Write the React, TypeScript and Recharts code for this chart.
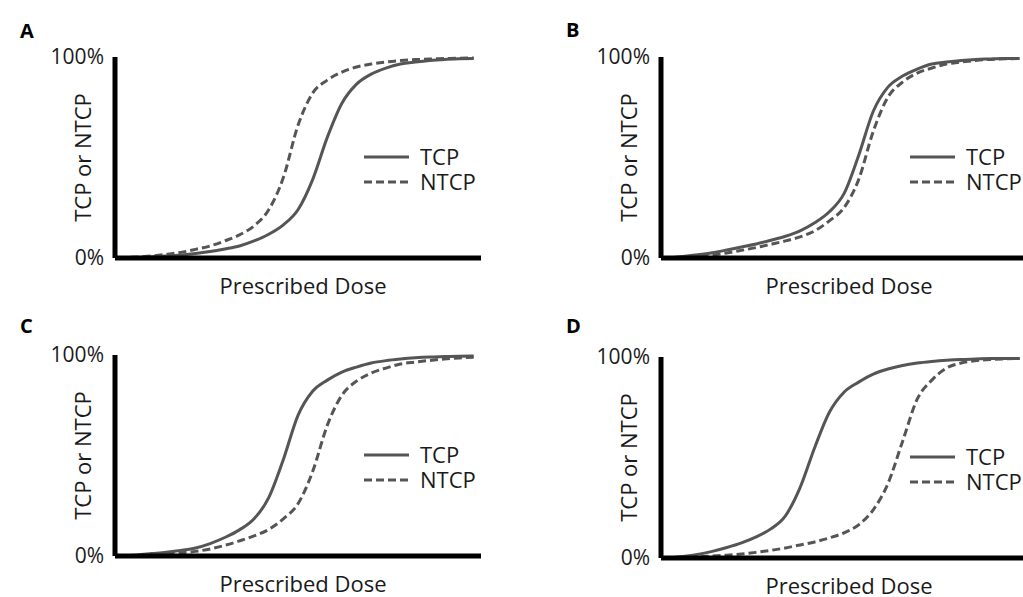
import { LineChart, Line, XAxis, YAxis, Legend } from 'recharts';

// shared dose grid (arbitrary units, 0-100 across the x axis)
const DOSE = [1, 6, 10, 14, 18, 22, 26, 30, 34, 38, 42, 46, 50, 54, 58, 62, 66, 70, 74, 78, 82, 86, 90, 94, 98];

// probability in %
const TCP_A = [0, 0.3, 0.6, 1, 1.5, 2.2, 3.2, 4.5, 6, 8.5, 11.8, 16.5, 24, 39, 60, 77, 86.5, 91.5, 94.5, 96.5, 97.5, 98.3, 98.8, 99.1, 99.3];
const NTCP_A = [0, 0.5, 1, 1.8, 2.8, 4.3, 6, 8.5, 11.5, 16, 24, 40, 66, 82, 88.5, 92.5, 95, 96.5, 97.5, 98.2, 98.7, 99, 99.2, 99.4, 99.5];

const TCP_B = [0, 0.8, 1.6, 2.6, 4, 5.5, 7, 8.8, 10.8, 13.5, 17.5, 23, 32, 51, 73, 85, 90.5, 94, 96.5, 97.5, 98.3, 98.8, 99, 99.2, 99.3];
const NTCP_B = [0, 0.3, 0.7, 1.5, 2.5, 3.8, 5.2, 6.8, 8.5, 10.5, 13.5, 18.5, 25, 39, 63, 80, 87.5, 92, 94.5, 96.5, 97.5, 98.3, 98.8, 99.1, 99.3];

const TCP_C = [0, 0.5, 1.2, 1.9, 2.8, 4, 6.2, 9.2, 13, 18.5, 29, 48, 70, 82, 87.5, 91.5, 94, 96, 97.2, 98, 98.6, 99, 99.2, 99.4, 99.5];
const NTCP_C = [0, 0.2, 0.5, 1, 1.6, 2.3, 3.5, 5.3, 7.5, 10, 13.2, 18.5, 26, 42, 65, 80, 87, 91, 93.5, 95.5, 96.5, 97.3, 98, 98.5, 98.9];

const TCP_D = [0, 0.8, 1.8, 3.3, 5.2, 7.5, 10.5, 14.5, 21, 35, 55, 72.5, 82.5, 87.5, 91.5, 94, 95.8, 97, 97.8, 98.4, 98.8, 99, 99.2, 99.3, 99.3];
const NTCP_D = [0, 0.3, 0.6, 1, 1.4, 2, 2.8, 3.8, 5, 6.5, 8, 10, 12.5, 16.5, 24, 37, 58, 79, 88.5, 94.5, 97, 98.2, 98.8, 99.1, 99.3];

const Y_TICKS = [0, 100];
const PANEL_LETTERS = ['A', 'B', 'C', 'D'];
const SERIES_NAMES = ['TCP', 'NTCP'];

const INK = '#1a1a1a';
const CURVE = '#555555';

const panels = [
  { letter: PANEL_LETTERS[0], tcp: TCP_A, ntcp: NTCP_A, left: 0, top: 0, letterTop: 21 },
  { letter: PANEL_LETTERS[1], tcp: TCP_B, ntcp: NTCP_B, left: 546, top: 0, letterTop: 20 },
  { letter: PANEL_LETTERS[2], tcp: TCP_C, ntcp: NTCP_C, left: 0, top: 298, letterTop: 18 },
  { letter: PANEL_LETTERS[3], tcp: TCP_D, ntcp: NTCP_D, left: 546, top: 300, letterTop: 16 },
];

function LegendBox(props: any) {
  const items = [...(props.payload ?? [])].sort(
    (a: any, b: any) => SERIES_NAMES.indexOf(a.value) - SERIES_NAMES.indexOf(b.value),
  );
  return (
    <svg width={150} height={52} style={{ overflow: 'visible' }}>
      {items.map((e: any, i: number) => (
        <g key={e.value}>
          <line
            x1={0}
            x2={45}
            y1={12 + i * 25}
            y2={12 + i * 25}
            stroke={CURVE}
            strokeWidth={3}
            strokeDasharray={e.value === 'NTCP' ? '8 4' : undefined}
          />
          <text x={56} y={12 + i * 25} dy="0.36em" fontSize={22} fill={INK}>
            {e.value}
          </text>
        </g>
      ))}
    </svg>
  );
}

function YTitle(props: any) {
  const vb = props.viewBox ?? { x: 0, y: 57, width: 115, height: 201 };
  const x = vb.x + vb.width - 32;
  const y = vb.y + vb.height / 2;
  return (
    <text x={x} y={y} dy="0.36em" textAnchor="middle" fontSize={22} fill={INK} transform={`rotate(-90, ${x}, ${y})`}>
      TCP or NTCP
    </text>
  );
}

function Panel({ p }: { p: (typeof panels)[number] }) {
  const rows = DOSE.map((d, i) => ({ dose: d, tcp: p.tcp[i], ntcp: p.ntcp[i] }));
  return (
    <div style={{ position: 'absolute', left: p.left, top: p.top, width: 500, height: 300 }}>
      <div
        style={{
          position: 'absolute',
          left: 20,
          top: p.letterTop,
          fontSize: 20,
          lineHeight: '20px',
          fontWeight: 700,
          color: '#000',
        }}
      >
        {p.letter}
      </div>
      <LineChart width={500} height={300} data={rows} margin={{ top: 57, right: 19, bottom: 0, left: 0 }}>
        <XAxis
          dataKey="dose"
          type="number"
          domain={[0, 100]}
          tick={false}
          tickLine={false}
          height={42}
          axisLine={{ stroke: '#000', strokeWidth: 5 }}
          label={{ value: 'Prescribed Dose', position: 'insideBottom', offset: 6, dx: 5, fontSize: 22, fill: INK }}
        />
        <YAxis
          type="number"
          domain={[0, 100]}
          ticks={Y_TICKS}
          width={115}
          tickLine={false}
          tickSize={0}
          tickMargin={11}
          tickFormatter={(v: number) => `${v}%`}
          tick={{ fontSize: 21, fill: INK }}
          axisLine={{ stroke: '#000', strokeWidth: 5 }}
          label={(lp: any) => <YTitle {...lp} />}
        />
        <Legend
          layout="vertical"
          align="center"
          verticalAlign="middle"
          content={(lp: any) => <LegendBox {...lp} />}
          wrapperStyle={{ position: 'absolute', left: 364, top: 145, width: 150, height: 52 }}
        />
        <Line
          dataKey="tcp"
          name={SERIES_NAMES[0]}
          type="monotone"
          stroke={CURVE}
          strokeWidth={3}
          dot={false}
          isAnimationActive={false}
        />
        <Line
          dataKey="ntcp"
          name={SERIES_NAMES[1]}
          type="monotone"
          stroke={CURVE}
          strokeWidth={3}
          strokeDasharray="8 4"
          dot={false}
          isAnimationActive={false}
        />
      </LineChart>
    </div>
  );
}

export default function App() {
  return (
    <div
      style={{
        position: 'absolute',
        left: 0,
        top: 0,
        width: 1023,
        height: 597,
        overflow: 'hidden',
        background: '#fff',
        fontFamily: '"Open Sans", sans-serif',
      }}
    >
      {panels.map((p) => (
        <Panel key={p.letter} p={p} />
      ))}
    </div>
  );
}
